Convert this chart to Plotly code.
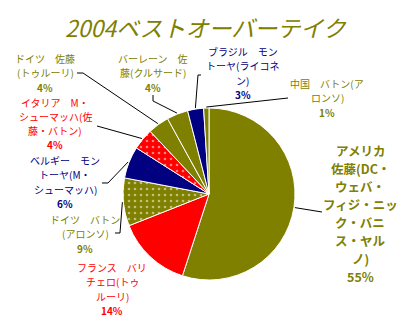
import math
import plotly.graph_objects as go

W, H = 412, 322

# ---- data ----
labels = [
    "アメリカ<br>佐藤(DC・<br>ウェバ・<br>フィジ・ニッ<br>ク・バニ<br>ス・ヤル<br>ノ)",
    "フランス　バリ<br>チェロ(トゥ<br>ルーリ)",
    "ドイツ　バトン<br>(アロンソ)",
    "ベルギー　モン<br>トーヤ(M・<br>シューマッハ)",
    "イタリア　M・<br>シューマッハ(佐<br>藤・バトン)",
    "ドイツ　佐藤<br>(トゥルーリ)",
    "バーレーン　佐<br>藤(クルサード)",
    "ブラジル　モン<br>トーヤ(ライコネ<br>ン)",
    "中国　バトン(ア<br>ロンソ)",
]
values = [55, 14, 9, 6, 4, 4, 4, 3, 1]
pct_labels = ["55%", "14%", "9%", "6%", "4%", "4%", "4%", "3%", "1%"]
title_text = "2004ベストオーバーテイク"

OLIVE, RED, NAVY = "#808000", "#FF0000", "#000080"
colors = [OLIVE, RED, OLIVE, NAVY, RED, OLIVE, OLIVE, NAVY, OLIVE]
patterns = ["", "", ".", "", ".", "", "", "", ""]

# ---- layout (pixels) ----
cx, cy, R = 209, 194, 86
# (center x, first line y, line spacing, font size)
label_pos = [(360, 150, 18.1, 12.5), (112, 267, 14.6, 10), (85, 219, 14.5, 10),
             (65, 160, 14.5, 10), (55, 102, 14.3, 10), (45, 58, 14.5, 10),
             (153, 58, 14.5, 10), (243, 51, 14.5, 10), (327, 83, 14.5, 10)]
leader_start = [
    [(322, 212)],
    None,
    [(115, 233), (120, 233)],
    [(102, 183), (108, 183)],
    [(97, 126)],
    [(77, 73), (83, 73)],
    [(153, 95), (153, 101)],
    [(201, 75), (198, 75)],
    [(288, 98)],
]

def px(x):
    return x / W

def py(y):
    return 1 - y / H

fig = go.Figure(go.Pie(
    values=values,
    sort=False,
    direction="clockwise",
    rotation=0,
    textinfo="none",
    hoverinfo="skip",
    marker=dict(
        colors=colors,
        line=dict(color="white", width=1),
        pattern=dict(shape=patterns, fgcolor="white", size=6, solidity=0.15,
                     fillmode="overlay"),
    ),
    domain=dict(x=[px(cx - R), px(cx + R)], y=[py(cy + R), py(cy - R)]),
    showlegend=False,
))

total = sum(values)
cum = 0
shapes = []
annotations = []
for i, v in enumerate(values):
    mid = (cum + v / 2) / total * 2 * math.pi
    cum += v
    ax = cx + (R + 1) * math.sin(mid)
    ay = cy - (R + 1) * math.cos(mid)
    if leader_start[i]:
        pts = leader_start[i] + [(ax, ay)]
        path = "M " + " L ".join(f"{px(x):.5f},{py(y):.5f}" for x, y in pts)
        shapes.append(dict(type="path", path=path, xref="paper", yref="paper",
                           line=dict(color="black", width=1)))
    lx, ly, sp, fs = label_pos[i]
    lines = labels[i].split("<br>") + ["<b>" + pct_labels[i] + "</b>"]
    for k, line in enumerate(lines):
        txt = ("<b>" + line + "</b>") if i == 0 and k < len(lines) - 1 else line
        annotations.append(dict(
            x=px(lx), y=py(ly + k * sp), xref="paper", yref="paper",
            text=txt, showarrow=False, align="center",
            xanchor="center", yanchor="middle",
            font=dict(family="Noto Sans CJK JP", size=fs, color=colors[i]),
        ))

annotations.append(dict(
    x=px(206), y=py(27), xref="paper", yref="paper",
    text="<i>" + title_text + "</i>", showarrow=False,
    xanchor="center", yanchor="middle",
    font=dict(family="Noto Sans CJK JP", size=23, color=OLIVE),
))

fig.update_layout(
    width=W, height=H,
    margin=dict(l=0, r=0, t=0, b=0),
    paper_bgcolor="white", plot_bgcolor="white",
    shapes=shapes, annotations=annotations,
)

fig.write_html("out.html")
